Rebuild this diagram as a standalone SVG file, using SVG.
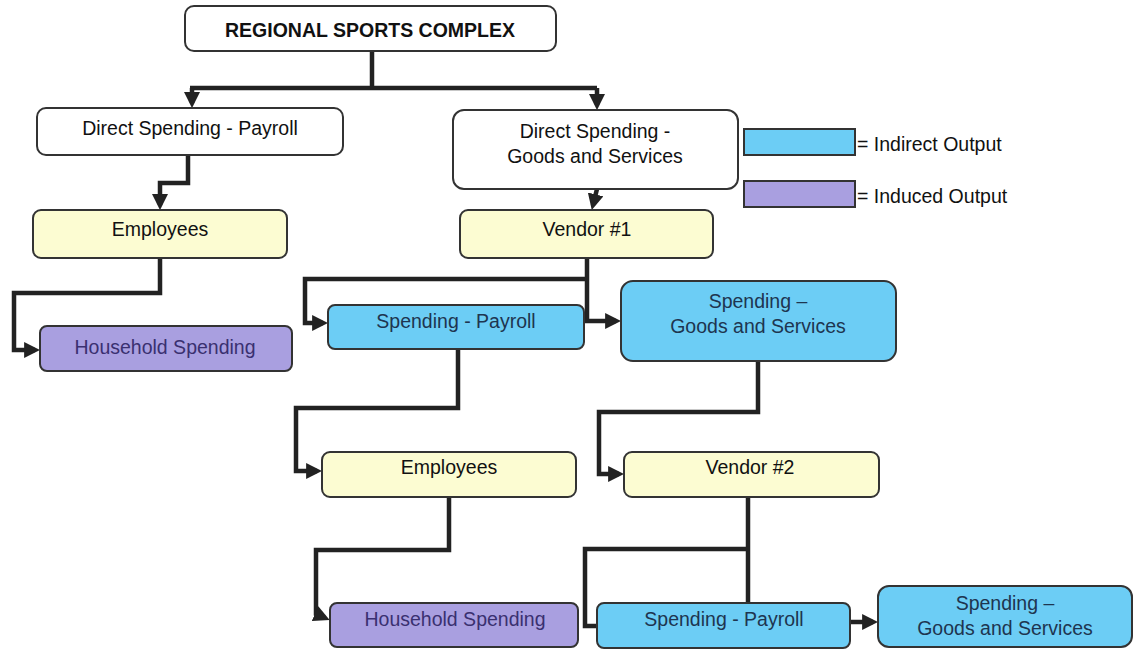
<svg xmlns="http://www.w3.org/2000/svg" width="1134" height="649" viewBox="0 0 1134 649">
<defs>
<marker id="ah" viewBox="0 0 10 10" refX="6.8" refY="5" markerWidth="16" markerHeight="16" markerUnits="userSpaceOnUse" orient="auto">
<path d="M0,0 L10,5 L0,10 z" fill="#222"/>
</marker>
<style>
.box{stroke:#333;stroke-width:2}
.w{fill:#fff}
.y{fill:#fcfcd2}
.b{fill:#6ccdf5}
.p{fill:#a99fe0}
text{font-family:"Liberation Sans",Arial,sans-serif;font-size:19.5px;text-anchor:middle;fill:#111}
.tb{fill:#1e3550}
.tp{fill:#3a3070}
.c{fill:none;stroke:#222;stroke-width:4.5;stroke-linejoin:miter}
.lt{text-anchor:start}
</style>
</defs>
<rect width="1134" height="649" fill="#fff"/>
<g id="connectors">
<path class="c" d="M372,51 V88"/>
<path class="c" d="M190,88 H597"/>
<path class="c" d="M192,88 V103" marker-end="url(#ah)"/>
<path class="c" d="M597,88 V105" marker-end="url(#ah)"/>
<path class="c" d="M188,155 V183 H160 V205" marker-end="url(#ah)"/>
<path class="c" d="M597,189 L593,205" marker-end="url(#ah)"/>
<path class="c" d="M160,258 V293 H14 V350 H35" marker-end="url(#ah)"/>
<path class="c" d="M587,258 V321 H616" marker-end="url(#ah)"/>
<path class="c" d="M587,279 H305 V323 H323" marker-end="url(#ah)"/>
<path class="c" d="M458,349 V408 H296 V471 H317" marker-end="url(#ah)"/>
<path class="c" d="M758,361 V412 H599 V474 H619" marker-end="url(#ah)"/>
<path class="c" d="M449,497 V550 H316 V614 L325,618" marker-end="url(#ah)"/>
<path class="c" d="M748,497 V603"/>
<path class="c" d="M748,549 H585 V626 H597"/>
<path class="c" d="M850,622 H873" marker-end="url(#ah)"/>
</g>
<g id="n-top"><rect class="box w" x="185" y="6" width="371" height="45" rx="9"/><text x="370" y="37" font-weight="bold" font-size="20px">REGIONAL SPORTS COMPLEX</text></g>
<g id="n-dpay"><rect class="box w" x="37" y="108" width="306" height="47" rx="9"/><text x="190" y="135">Direct Spending - Payroll</text></g>
<g id="n-dgs"><rect class="box w" x="453" y="110" width="285" height="79" rx="11"/><text x="595" y="138">Direct Spending -</text><text x="595" y="163">Goods and Services</text></g>
<g id="legend-indirect"><rect x="744" y="129" width="111" height="26" fill="#6ccdf5" stroke="#333" stroke-width="2"/><text class="lt" x="857" y="151">= Indirect Output</text></g>
<g id="legend-induced"><rect x="744" y="181" width="111" height="26" fill="#a99fe0" stroke="#333" stroke-width="2"/><text class="lt" x="857" y="203">= Induced Output</text></g>
<g id="n-emp1"><rect class="box y" x="33" y="210" width="254" height="48" rx="8"/><text x="160" y="236">Employees</text></g>
<g id="n-ven1"><rect class="box y" x="460" y="210" width="253" height="48" rx="8"/><text x="587" y="236">Vendor #1</text></g>
<g id="n-hh1"><rect class="box p" x="40" y="326" width="252" height="45" rx="7"/><text class="tp" x="165" y="354">Household Spending</text></g>
<g id="n-sp1"><rect class="box b" x="328" y="305" width="256" height="44" rx="7"/><text class="tb" x="456" y="328">Spending - Payroll</text></g>
<g id="n-sgs1"><rect class="box b" x="621" y="281" width="275" height="80" rx="12"/><text class="tb" x="758" y="308">Spending –</text><text class="tb" x="758" y="333">Goods and Services</text></g>
<g id="n-emp2"><rect class="box y" x="322" y="452" width="254" height="45" rx="8"/><text x="449" y="474">Employees</text></g>
<g id="n-ven2"><rect class="box y" x="624" y="452" width="255" height="45" rx="8"/><text x="750" y="474">Vendor #2</text></g>
<g id="n-hh2"><rect class="box p" x="330" y="603" width="248" height="44" rx="7"/><text class="tp" x="455" y="626">Household Spending</text></g>
<g id="n-sp2"><rect class="box b" x="597" y="603" width="253" height="45" rx="7"/><text class="tb" x="724" y="626">Spending - Payroll</text></g>
<g id="n-sgs2"><rect class="box b" x="878" y="586" width="254" height="61" rx="11"/><text class="tb" x="1005" y="610">Spending –</text><text class="tb" x="1005" y="635">Goods and Services</text></g>
</svg>
